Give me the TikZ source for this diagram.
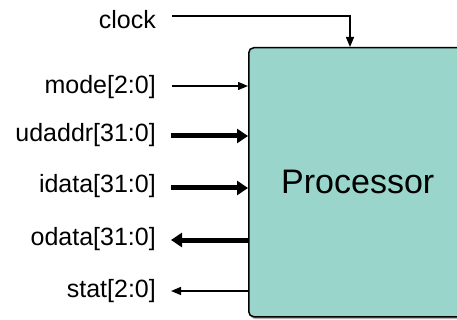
\documentclass[tikz,border=0pt]{standalone}
\usepackage{fontspec}
\setmainfont{Liberation Sans}
\usetikzlibrary{arrows.meta}

\begin{document}
\begin{tikzpicture}[x=1pt,y=-1pt,
    sig/.style={anchor=east,inner sep=0pt,font=\fontsize{25}{28}\selectfont},
    thin/.style={line width=1.3pt,-{Triangle[length=10pt,width=8pt]}},
    bus/.style={line width=5pt,-{Triangle[length=11pt,width=14pt]}}]
                \useasboundingbox (0,0) rectangle (457,320);
                \clip (0,0) rectangle (457,320);
                % the processor block and its shadow
                \fill[gray!60,rounded corners=5pt] (250,50) rectangle (470,319);
                \node (proc) at (248,47) [anchor=north west,draw,line width=1.5pt,rounded corners=5pt,
                        fill={rgb,255:red,154;green,213;blue,203},minimum width=218pt,minimum height=269pt,
                        font=\fontsize{34}{38}\selectfont] {Processor};

                \node (clk) at (156,20) [sig] {clock};
                \node (mode) at (156,87) [sig] {mode[2:0]};
                \node (uda) at (156,135) [sig] {udaddr[31:0]};
                \node (idat) at (156,186) [sig] {idata[31:0]};
                \node (odat) at (156,239) [sig] {odata[31:0]};
                \node (stat) at (156,291) [sig] {stat[2:0]};

                \coordinate (clkin) at (172,16);
                \coordinate (modein) at (172,86);
                \coordinate (udain) at (171,136);
                \coordinate (idatin) at (171,188);
                \coordinate (odatout) at (171,240);
                \coordinate (statout) at (171,291);

                \draw[thin] (clkin) -| ([xshift=102pt]proc.north west);
                \draw[thin] (modein) -- (modein -| proc.west);
                \draw[bus] (udain) -- (udain -| proc.west);
                \draw[bus] (idatin) -- (idatin -| proc.west);
                \draw[bus] (odatout -| proc.west) -- (odatout);
                \draw[thin] (statout -| proc.west) -- (statout);

            \end{tikzpicture}
\end{document}
